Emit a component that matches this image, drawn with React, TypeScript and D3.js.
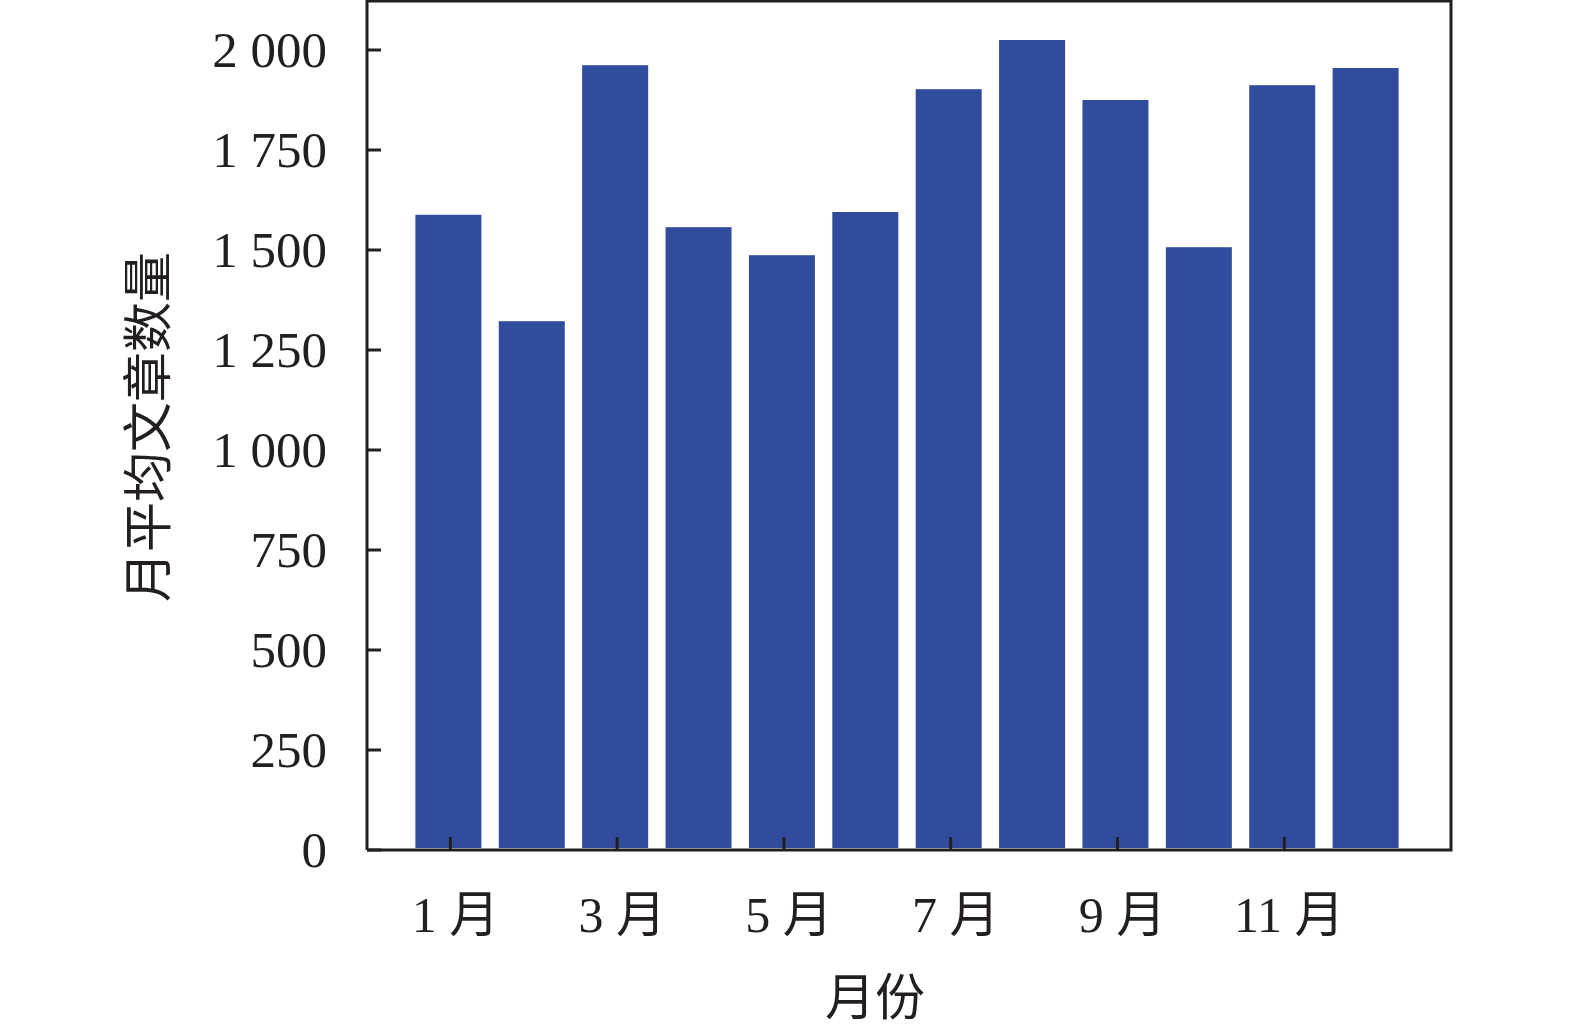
import * as d3 from 'd3';
import { useEffect, useRef } from 'react';

const months = [1, 2, 3, 4, 5, 6, 7, 8, 9, 10, 11, 12];
const articleCounts = [1588, 1322, 1962, 1557, 1487, 1595, 1902, 2025, 1875, 1507, 1912, 1955];
const yTicks = [0, 250, 500, 750, 1000, 1250, 1500, 1750, 2000];
const xTicks = [1, 3, 5, 7, 9, 11];
const yTitle = '月平均文章数量';
const xTitle = '月份';

const WIDTH = 1575;
const HEIGHT = 1028;
const BAR_COLOR = '#314c9c';
const INK = '#231f20';
const FONT = "'Liberation Serif', 'Noto Sans CJK SC', serif";

export default function App() {
  const svgRef = useRef<SVGSVGElement>(null);

  useEffect(() => {
    if (!svgRef.current) return;
    const svg = d3.select(svgRef.current);
    svg.selectAll('*').remove();

    const left = 367;
    const right = 1451;
    const top = 1;
    const bottom = 850;

    const x = d3.scaleLinear().domain([0, 13]).range([left, right]);
    const y = d3.scaleLinear().domain([0, 2000]).range([bottom, 50]);
    const barWidth = 66;
    const barShift = -2; // bars sit a touch left of their ticks in the original

    // bars
    svg
      .append('g')
      .selectAll('rect')
      .data(months)
      .join('rect')
      .attr('x', (m) => x(m) - barWidth / 2 + barShift)
      .attr('y', (m, i) => y(articleCounts[i]))
      .attr('width', barWidth)
      .attr('height', (m, i) => y(0) - y(articleCounts[i]) - 2)
      .attr('fill', BAR_COLOR);

    // frame: left, top, right, bottom
    svg
      .append('path')
      .attr('d', `M${left},${bottom}V${top}H${right}V${bottom}H${left}`)
      .attr('fill', 'none')
      .attr('stroke', INK)
      .attr('stroke-width', 3);

    // y ticks (inward)
    const yg = svg.append('g');
    yg.selectAll('line')
      .data(yTicks)
      .join('line')
      .attr('x1', left)
      .attr('x2', left + 14)
      .attr('y1', (d) => y(d))
      .attr('y2', (d) => y(d))
      .attr('stroke', INK)
      .attr('stroke-width', 3);
    yg.selectAll('text')
      .data(yTicks)
      .join('text')
      .attr('x', 327)
      .attr('y', (d) => y(d))
      .attr('dy', '0.34em')
      .attr('text-anchor', 'end')
      .attr('font-size', 51)
      .attr('font-family', FONT)
      .attr('fill', INK)
      .text((d) => d3.format(',')(d).replace(',', ' '));

    // x ticks (inward)
    const xg = svg.append('g');
    xg.selectAll('line')
      .data(xTicks)
      .join('line')
      .attr('x1', (d) => x(d))
      .attr('x2', (d) => x(d))
      .attr('y1', bottom)
      .attr('y2', bottom - 13)
      .attr('stroke', INK)
      .attr('stroke-width', 3);
    xg.selectAll('text')
      .data(xTicks)
      .join('text')
      .attr('x', (d) => x(d) + 5)
      .attr('y', 932)
      .attr('text-anchor', 'middle')
      .attr('font-size', 50)
      .attr('font-family', FONT)
      .attr('fill', INK)
      .text((d) => `${d} 月`);

    // axis titles
    svg
      .append('text')
      .attr('x', 875)
      .attr('y', 1015)
      .attr('text-anchor', 'middle')
      .attr('font-size', 50)
      .attr('font-family', FONT)
      .attr('fill', INK)
      .text(xTitle);

    svg
      .append('text')
      .attr('transform', `translate(148,427) rotate(-90)`)
      .attr('dy', '0.35em')
      .attr('text-anchor', 'middle')
      .attr('font-size', 50)
      .attr('font-family', FONT)
      .attr('fill', INK)
      .text(yTitle);
  }, []);

  return (
    <div style={{ position: 'absolute', left: 0, top: 0, background: '#fff' }}>
      <svg ref={svgRef} width={WIDTH} height={HEIGHT} viewBox={`0 0 ${WIDTH} ${HEIGHT}`} />
    </div>
  );
}
